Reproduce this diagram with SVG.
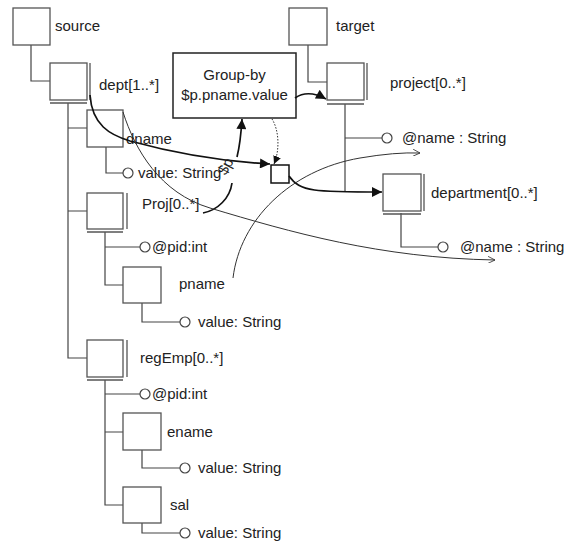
<svg xmlns="http://www.w3.org/2000/svg" width="568" height="554" viewBox="0 0 568 554">
  <style>
    .box { fill: #fff; stroke: #555; stroke-width: 1.3; }
    .dbl { fill: none; stroke: #555; stroke-width: 1.3; }
    .tree { fill: none; stroke: #444; stroke-width: 1.2; }
    .att { fill: #fff; stroke: #444; stroke-width: 1.2; }
    .lbl { font-family: "Liberation Sans", Arial, sans-serif; font-size: 15px; fill: #222; }
    .thick { fill: none; stroke: #111; stroke-width: 1.7; }
    .thin { fill: none; stroke: #333; stroke-width: 1; }
    .dot { fill: none; stroke: #333; stroke-width: 1; stroke-dasharray: 1.5 1.5; }
  </style>
  <defs>
    <marker id="solid" viewBox="0 0 10 10" refX="10" refY="5" markerWidth="8" markerHeight="8" markerUnits="userSpaceOnUse" orient="auto">
      <path d="M0,0 L10,5 L0,10 z" fill="#111"/>
    </marker>
    <marker id="solidBig" viewBox="0 0 10 10" refX="10" refY="5" markerWidth="12" markerHeight="10" markerUnits="userSpaceOnUse" orient="auto">
      <path d="M0,0 L10,5 L0,10 z" fill="#111"/>
    </marker>
    <marker id="open" viewBox="0 0 10 10" refX="10" refY="5" markerWidth="9" markerHeight="7" markerUnits="userSpaceOnUse" orient="auto">
      <path d="M0,0 L10,5 L0,10" fill="none" stroke="#333" stroke-width="1.2"/>
    </marker>
  </defs>

  <!-- tree edges -->
  <g id="tree-edges">
    <path class="tree" d="M31,45 V81 H50"/>
    <path class="tree" d="M68,103 V358 H87 M68,128 H87 M68,211 H87"/>
    <path class="tree" d="M106,147 V173 H123"/>
    <path class="tree" d="M105,232 V285 H123 M105,247 H140"/>
    <path class="tree" d="M142,303 V322 H180"/>
    <path class="tree" d="M105,380 V505 H123 M105,394 H140 M105,432 H123"/>
    <path class="tree" d="M142,450 V468 H180"/>
    <path class="tree" d="M142,523 V533 H180"/>
    <path class="tree" d="M308,45 V82 H327"/>
    <path class="tree" d="M345,104 V192 M345,138 H382"/>
    <path class="tree" d="M401,213 V247 H438"/>
  </g>

  <!-- source schema -->
  <g id="source">
    <rect class="box" x="13" y="8" width="37" height="37"/>
    <text class="lbl" x="55" y="31">source</text>
  </g>
  <g id="dept">
    <rect class="box" x="50" y="63" width="37" height="37"/>
    <path class="dbl" d="M90,63 V100 M50,103 H87"/>
    <text class="lbl" x="99" y="90">dept[1..*]</text>
  </g>
  <g id="dname">
    <rect class="box" x="87" y="110" width="36" height="37"/>
    <text class="lbl" x="126" y="144">dname</text>
  </g>
  <g id="dname-value">
    <circle class="att" cx="128" cy="173" r="5"/>
    <text class="lbl" x="138" y="178">value: String</text>
  </g>
  <g id="proj">
    <rect class="box" x="87" y="193" width="36" height="36"/>
    <path class="dbl" d="M127,193 V229 M87,232 H123"/>
    <text class="lbl" x="142" y="209">Proj[0..*]</text>
  </g>
  <g id="proj-pid">
    <circle class="att" cx="145" cy="247" r="5"/>
    <text class="lbl" x="152" y="252">@pid:int</text>
  </g>
  <g id="pname">
    <rect class="box" x="123" y="267" width="38" height="36"/>
    <text class="lbl" x="179" y="289">pname</text>
  </g>
  <g id="pname-value">
    <circle class="att" cx="185" cy="322" r="5"/>
    <text class="lbl" x="198" y="327">value: String</text>
  </g>
  <g id="regEmp">
    <rect class="box" x="87" y="340" width="36" height="37"/>
    <path class="dbl" d="M127,340 V377 M87,380 H123"/>
    <text class="lbl" x="140" y="363">regEmp[0..*]</text>
  </g>
  <g id="regEmp-pid">
    <circle class="att" cx="145" cy="394" r="5"/>
    <text class="lbl" x="152" y="399">@pid:int</text>
  </g>
  <g id="ename">
    <rect class="box" x="123" y="413" width="38" height="37"/>
    <text class="lbl" x="167" y="437">ename</text>
  </g>
  <g id="ename-value">
    <circle class="att" cx="185" cy="468" r="5"/>
    <text class="lbl" x="198" y="473">value: String</text>
  </g>
  <g id="sal">
    <rect class="box" x="123" y="487" width="38" height="36"/>
    <text class="lbl" x="170" y="510">sal</text>
  </g>
  <g id="sal-value">
    <circle class="att" cx="185" cy="533" r="5"/>
    <text class="lbl" x="198" y="538">value: String</text>
  </g>

  <!-- target schema -->
  <g id="target">
    <rect class="box" x="289" y="8" width="38" height="37"/>
    <text class="lbl" x="336" y="31">target</text>
  </g>
  <g id="project">
    <rect class="box" x="327" y="63" width="37" height="37"/>
    <path class="dbl" d="M367,63 V100 M327,104 H364"/>
    <text class="lbl" x="390" y="88">project[0..*]</text>
  </g>
  <g id="project-name">
    <circle class="att" cx="387" cy="138" r="5"/>
    <text class="lbl" x="402" y="143">@name : String</text>
  </g>
  <g id="department">
    <rect class="box" x="383" y="174" width="38" height="37"/>
    <path class="dbl" d="M424,174 V211 M383,214 H421"/>
    <text class="lbl" x="431" y="198">department[0..*]</text>
  </g>
  <g id="department-name">
    <circle class="att" cx="443" cy="247" r="5"/>
    <text class="lbl" x="460" y="252">@name : String</text>
  </g>

  <!-- grouping function and Skolem node -->
  <g id="group-by">
    <rect x="173" y="53" width="123" height="65" fill="#fff" stroke="#222" stroke-width="1.5"/>
    <text class="lbl" x="234.5" y="80" text-anchor="middle">Group-by</text>
    <text class="lbl" x="234.5" y="100" text-anchor="middle">$p.pname.value</text>
  </g>
  <g id="skolem">
    <rect x="271" y="165" width="18" height="18" fill="#fff" stroke="#111" stroke-width="1.5"/>
  </g>

  <!-- mapping connectors -->
  <g id="connectors">
    <path class="thick" d="M90,95 C92,125 110,135 130,141 C170,152 215,161 270,164" marker-end="url(#solidBig)"/>
    <path class="thick" d="M289,176 C300,192 315,192 382,192" marker-end="url(#solidBig)"/>
    <path class="thick" d="M295,98 Q308,89 326,99" marker-end="url(#solidBig)"/>
    <path class="thick" d="M203,213 C218,210 230,198 232,183"/>
    <path class="thick" d="M237,157 C240,145 241,135 242,119" marker-end="url(#solidBig)"/>
    <text class="lbl" x="0" y="0" font-size="13" transform="translate(226,176) rotate(-62)">$p</text>
    <path class="dot" d="M272,119 C279,130 280,150 274,164" marker-end="url(#solid)"/>
    <path class="thin" d="M123,112 C135,150 160,193 210,208 C290,232 380,258 495,260" marker-end="url(#open)"/>
    <path class="thin" d="M233,278 C240,220 290,170 360,158 Q395,152 420,153" marker-end="url(#open)"/>
  </g>
</svg>
